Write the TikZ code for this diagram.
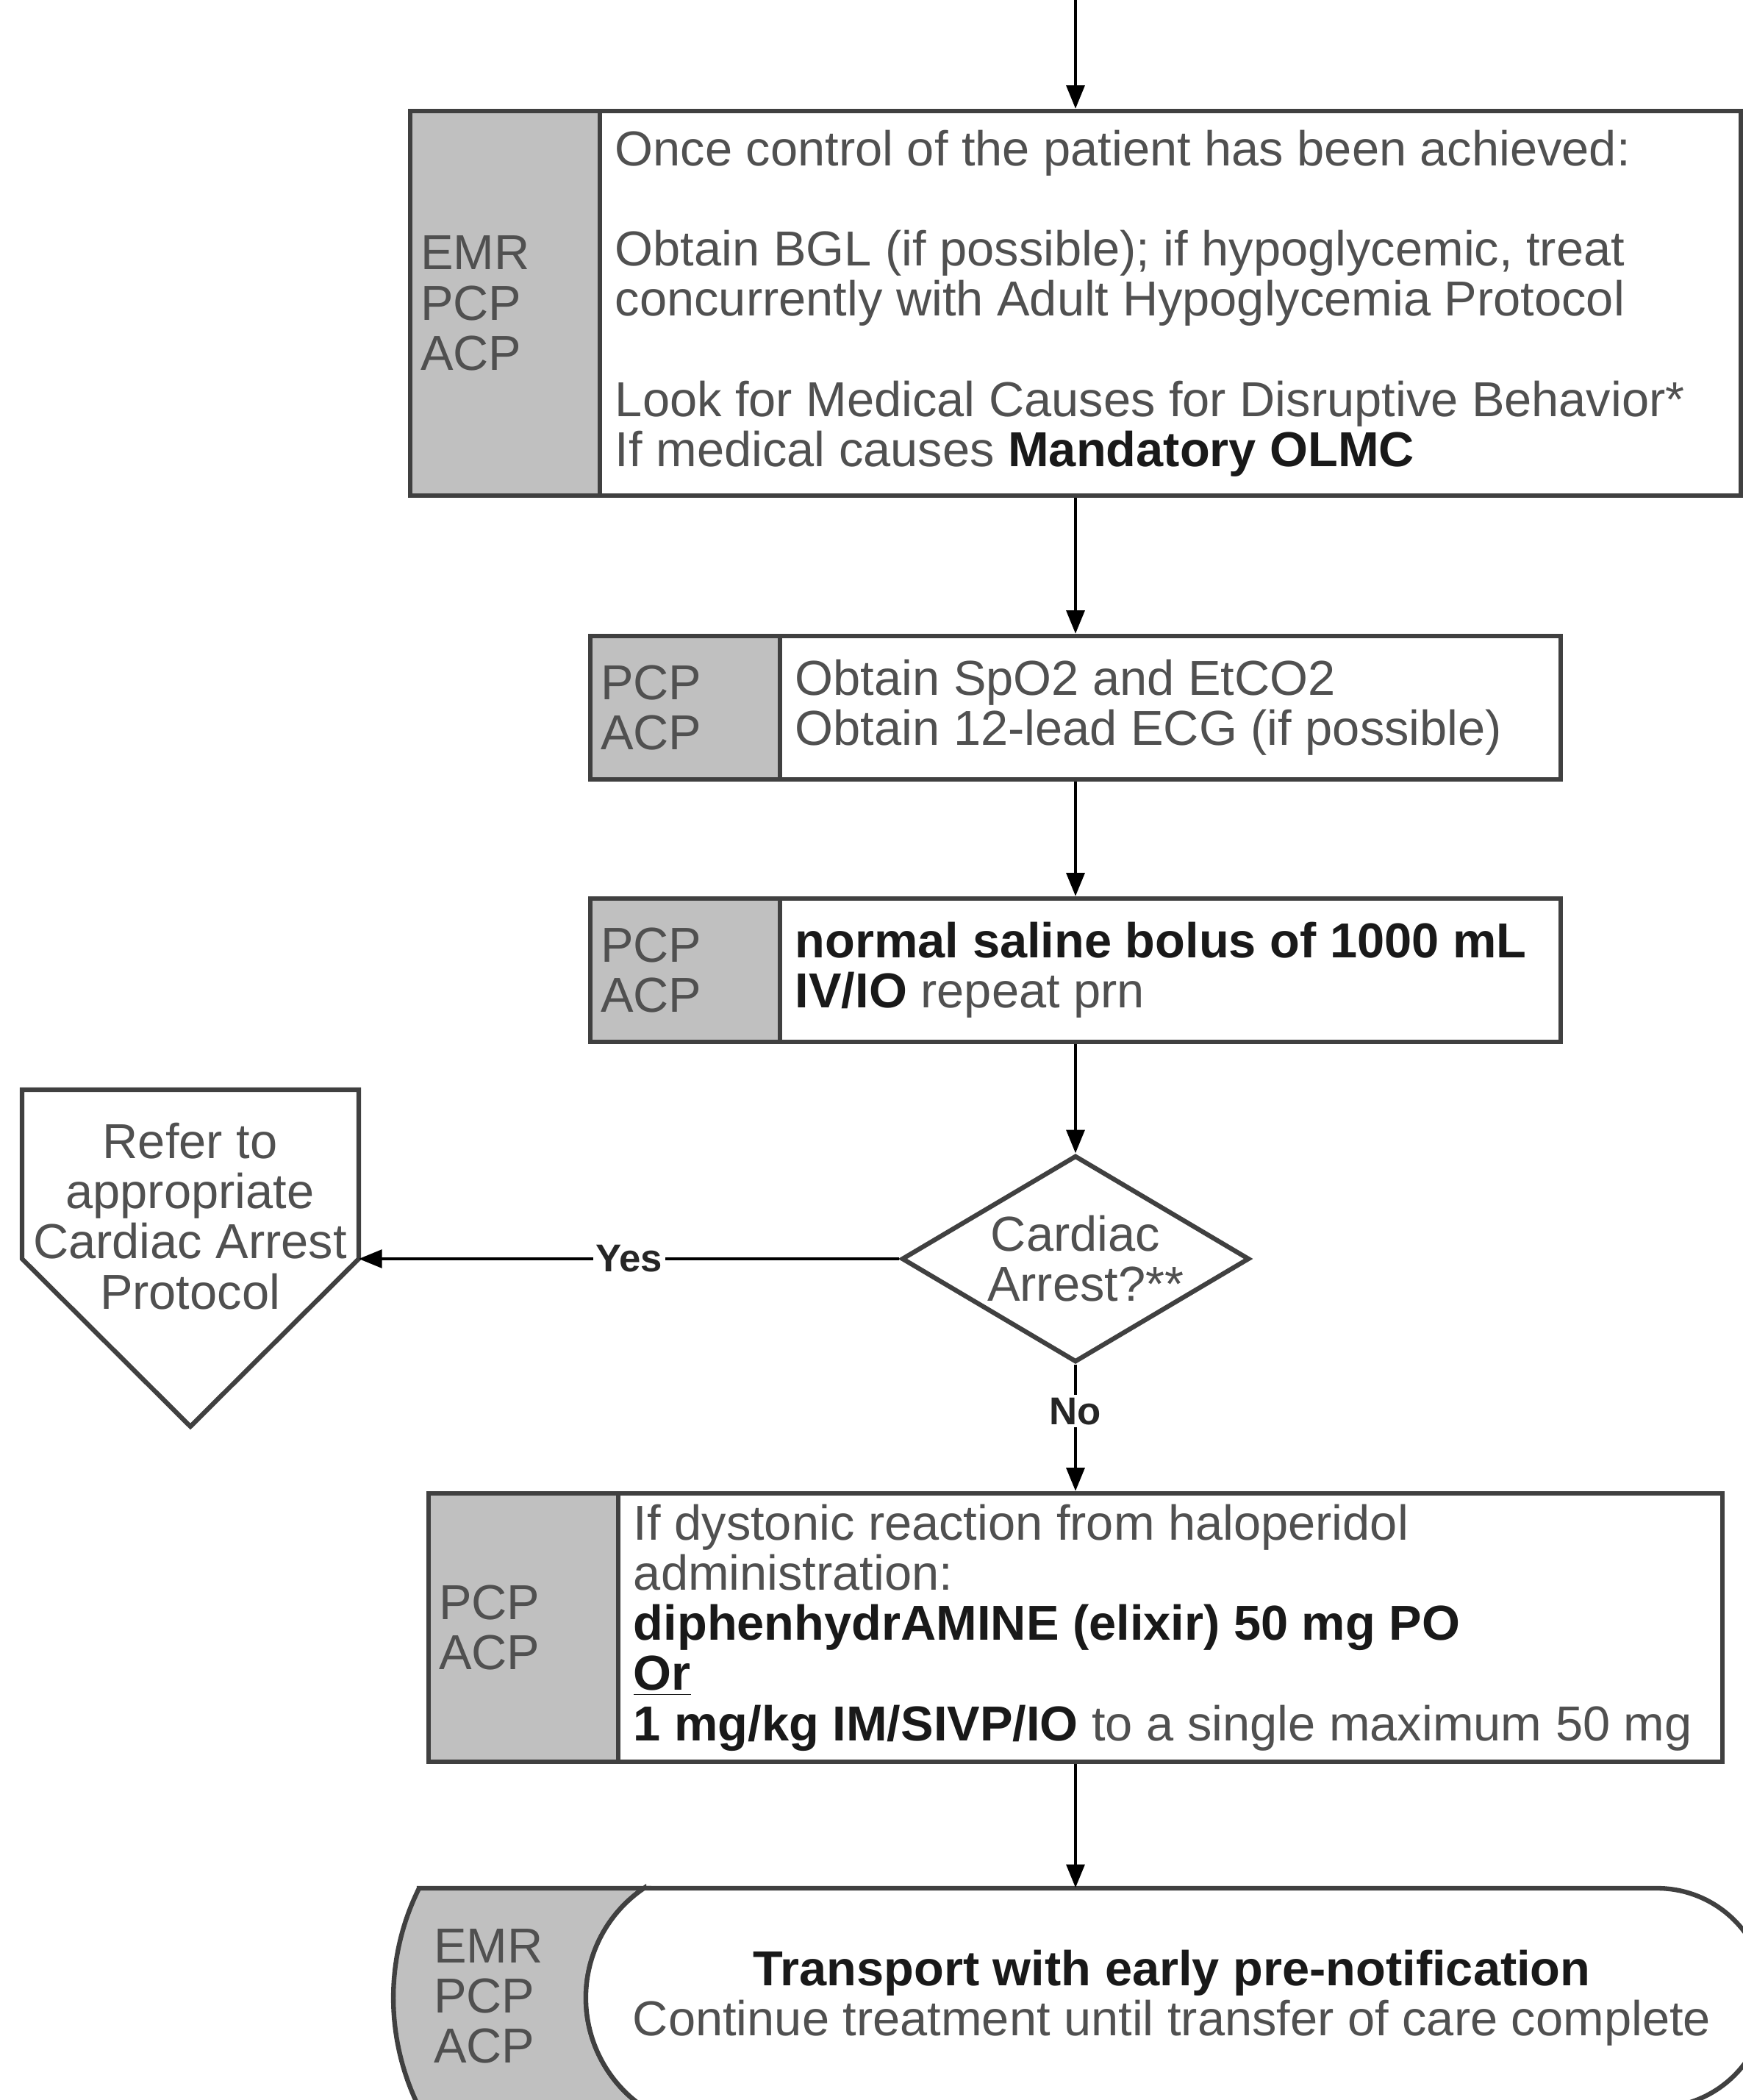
\documentclass[tikz,border=0pt]{standalone}
\usepackage{fontspec}
\setmainfont{Liberation Sans}
\usepackage{tikz}
\usetikzlibrary{arrows.meta,positioning,calc,shapes.geometric}
\definecolor{tagfill}{RGB}{192,192,192}
\definecolor{edge}{RGB}{64,64,64}
\definecolor{ink}{RGB}{80,80,80}
\newcommand{\bk}[1]{{\bfseries\color{black!90}#1}}

\tikzset{
  >={Triangle[length=9pt,width=7pt]},
  procbox/.style={draw=edge, line width=1.8pt, fill=white, inner sep=0pt},
  roletag/.style={draw=edge, line width=1.8pt, fill=tagfill, text=ink, text width=2.3cm,
    inner xsep=0.14cm, inner ysep=0pt, align=left},
  steptext/.style={text=ink, align=left, inner xsep=0.17cm, inner ysep=0pt, anchor=west},
  flow/.style={->, line width=1.2pt, black},
  answer/.style={fill=white, text=black!85, font=\fontsize{15}{15}\selectfont\bfseries, inner sep=1pt},
}

\begin{document}
\begin{tikzpicture}[font=\fontsize{19}{19.4}\selectfont]
\useasboundingbox (0,0) rectangle (23.70,-28.56);

% first box
\node[procbox, minimum width=18.10cm, minimum height=5.23cm] (b1) at (14.63,-4.125) {};
\node[roletag, anchor=north west, minimum height=5.23cm] (t1) at (b1.north west) {EMR\\PCP\\ACP};
\node[steptext] (x1) at (t1.east) {Once control of the patient has been achieved:\\[19.4pt]
  Obtain BGL (if possible); if hypoglycemic, treat\\concurrently with Adult Hypoglycemia Protocol\\[19.4pt]
  Look for Medical Causes for Disruptive Behavior*\\If medical causes \bk{Mandatory OLMC}};

% monitoring
\node[procbox, minimum width=13.20cm, minimum height=1.95cm] (b2) at (14.63,-9.625) {};
\node[roletag, anchor=north west, minimum height=1.95cm] (t2) at (b2.north west) {PCP\\ACP};
\node[steptext] (x2) at (t2.east) {Obtain SpO2 and EtCO2\\Obtain 12-lead ECG (if possible)};

% fluids
\node[procbox, minimum width=13.20cm, minimum height=1.95cm] (b3) at (14.63,-13.195) {};
\node[roletag, anchor=north west, minimum height=1.95cm] (t3) at (b3.north west) {PCP\\ACP};
\node[steptext] (x3) at (t3.east) {\bk{normal saline bolus of 1000 mL}\\\bk{IV/IO} repeat prn};

% decision
\node[diamond, draw=edge, line width=1.8pt, fill=white, aspect=1.7, inner sep=0pt,
  text width=2.4cm, align=center, text=ink, minimum width=4.73cm, minimum height=2.81cm] (ca) at (14.63,-17.12) {Cardiac\\Arrest?**};

% off-page connector
\draw[draw=edge, line width=1.8pt] (0.30,-14.82) -- (4.88,-14.82) -- (4.88,-17.12) -- (2.59,-19.40) -- (0.30,-17.12) -- cycle;
\coordinate (rc) at (4.88,-17.12);
\node[text=ink, align=center, inner sep=0pt] (refer) at (2.585,-16.54) {Refer to\\appropriate\\Cardiac Arrest\\Protocol};

% dystonic reaction
\node[procbox, minimum width=17.60cm, minimum height=3.65cm] (b5) at (14.63,-22.135) {};
\node[roletag, anchor=north west, minimum height=3.65cm] (t5) at (b5.north west) {PCP\\ACP};
\node[steptext] (x5) at (t5.east) {If dystonic reaction from haloperidol\\administration:\\
  \bk{diphenhydrAMINE (elixir) 50 mg PO}\\\bk{\underline{Or}}\\
  \bk{1 mg/kg IM/SIVP/IO} to a single maximum 50 mg};

% terminal
\draw[edge, line width=1.8pt, fill=tagfill] (5.70,-25.68) -- (8.76,-25.68)
  arc[start angle=124.1, end angle=235.9, radius=1.80] -- (5.70,-28.66)
  arc[start angle=206.4, end angle=153.6, radius=3.35] -- cycle;
\draw[edge, line width=1.8pt, fill=white] (8.76,-25.68) -- (22.54,-25.68)
  arc[start angle=90, end angle=-90, radius=1.49] -- (8.76,-28.66)
  arc[start angle=235.9, end angle=124.1, radius=1.80] -- cycle;
\node[roletag, fill=none, draw=none, anchor=west] (t6) at (5.73,-27.15) {EMR\\PCP\\ACP};
\node[text=ink, align=center, inner sep=0pt, minimum height=2.98cm] (term) at (15.94,-27.17)
  {\bk{Transport with early pre-notification}\\Continue treatment until transfer of care complete};

% arrows
\coordinate (in) at (14.63,0.1);
\draw[flow] (in) -- (b1.north);
\draw[flow] (b1.south) -- (b2.north);
\draw[flow] (b2.south) -- (b3.north);
\draw[flow] (b3.south) -- (ca.north);
\draw[flow] (ca.west) -- node[answer] {Yes} (rc);
\draw[flow] (ca.south) -- node[answer, pos=0.37] {No} (b5.north);
\draw[flow] (b5.south) -- (b5.south |- term.north);
\end{tikzpicture}
\end{document}
